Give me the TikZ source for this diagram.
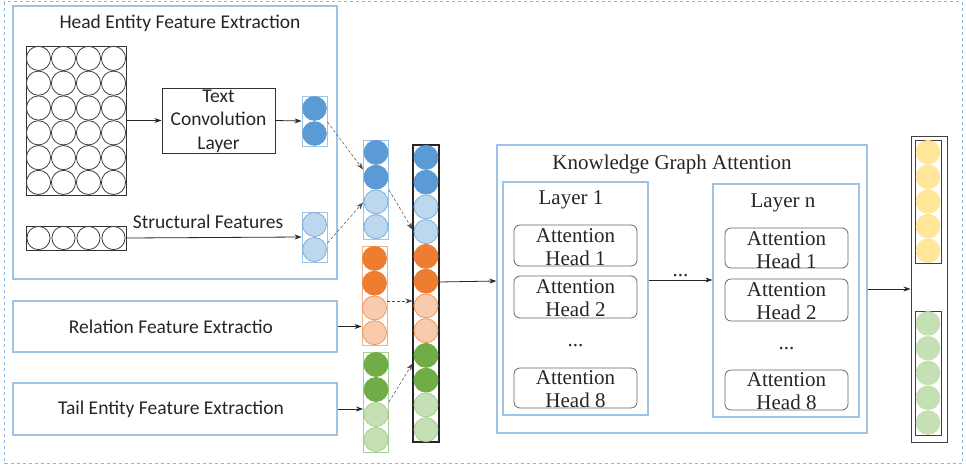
\documentclass[tikz,border=0pt]{standalone}
\usepackage{fontspec}
\setmainfont{Liberation Serif}
\newfontfamily\calib{Carlito}
\usetikzlibrary{arrows.meta,calc}
\definecolor{dblue}{HTML}{5B9BD5}
\definecolor{lblue}{HTML}{BDD7EE}
\definecolor{dorange}{HTML}{ED7D31}
\definecolor{lorange}{HTML}{F8CBAD}
\definecolor{dgreen}{HTML}{70AD47}
\definecolor{lgreen}{HTML}{C5E0B4}
\definecolor{ygold}{HTML}{FFE699}
\definecolor{boxblue}{HTML}{9DC3E6}
\definecolor{txt}{HTML}{262626}
\begin{document}
\begin{tikzpicture}[x=1pt,y=-1pt,
  bbox/.style={draw=boxblue, line width=1.2pt},
  col/.style={draw, inner sep=0pt, minimum width=25pt, line width=0.9pt},
  arr/.style={-{Stealth[length=7pt,width=5pt]}, line width=0.8pt, draw=black!85},
  dotarr/.style={-{Stealth[length=7pt,width=5pt]}, densely dashed, line width=0.5pt, draw=black!70},
  sans/.style={font=\calib\fontsize{19.5}{23.5}\selectfont, text=txt, inner sep=0pt},
  serif/.style={font=\fontsize{21}{23}\selectfont, text=txt, inner sep=0pt},
  head/.style={draw=black!60, rounded corners=6pt, line width=0.8pt, minimum width=123pt, inner sep=0pt}
]
\useasboundingbox (0,0) rectangle (966,466);
% outer dashed frame
\draw[dblue!70, dashed, line width=0.7pt] (4,1.5) rectangle (962,463);

% ---------- Head entity box ----------
\node[bbox, minimum width=324pt, minimum height=273pt, inner sep=0pt] (hbox) at (175,142.5) {};
\node[sans] (htitle) at (180,23) {Head Entity Feature Extraction};

% grid
\node[draw=black!80, line width=1pt, minimum width=100pt, minimum height=149pt, inner sep=0pt] (grid) at (76,120.5) {};
\foreach \i in {0,...,3}
  \foreach \j in {0,...,5}
    \draw[black!75, line width=0.8pt, fill=white] (38.5+25*\i, 58.4+24.8*\j) circle (12.1pt);

% text convolution layer
\node[draw=black!80, line width=1pt, minimum width=113pt, minimum height=65pt, inner sep=0pt] (conv) at (218.5,120.5) {};
\node[sans, align=center] (convt) at (218.5,121) {Text\\Convolution\\Layer};

% structural row
\node[draw=black!80, line width=1pt, minimum width=100pt, minimum height=24pt, inner sep=0pt] (srow) at (76,238) {};
\foreach \i in {0,...,3}
  \draw[black!75, line width=0.8pt, fill=white] (38.5+25*\i, 238) circle (11.6pt);
\node[sans] (slab) at (208,222) {Structural Features};

% head pairs
\node[col, draw=boxblue, minimum height=50pt] (hd) at (314.5,121) {};
\foreach \k in {0,1}
  \fill[dblue] (314.5,108.5+25*\k) circle (12.3pt);
\node[col, draw=boxblue, minimum height=50pt] (hl) at (314.5,237) {};
\foreach \k in {0,1}
  \draw[dblue!80, line width=0.8pt, fill=lblue] (314.5,224.5+25*\k) circle (12pt);

\draw[arr] (grid.east) -- (conv.west);
\draw[arr] (conv.east) -- (hd.west);
\draw[arr] (srow.east) -- (hl.west);

% ---------- Relation / Tail boxes ----------
\node[bbox, minimum width=324pt, minimum height=51pt, inner sep=0pt] (rel) at (175,326.5) {};
\node[sans] (relt) at (171,327) {Relation Feature Extractio};
\node[bbox, minimum width=324pt, minimum height=52pt, inner sep=0pt] (tail) at (175,409) {};
\node[sans] (tailt) at (171,409) {Tail Entity Feature Extraction};

% ---------- middle columns ----------
\node[col, draw=boxblue, minimum height=99pt] (mb) at (376,189.5) {};
\foreach \f/\d [count=\i from 0] in {dblue/dblue, dblue/dblue, lblue/dblue!80, lblue/dblue!80}
  \draw[draw=\d, fill=\f, line width=0.8pt] (376,152.4+24.75*\i) circle (12pt);

\node[col, draw=dorange!60, minimum height=99pt] (mo) at (374.5,295.5) {};
\foreach \f/\d [count=\i from 0] in {dorange/dorange, dorange/dorange, lorange/dorange!80, lorange/dorange!80}
  \draw[draw=\d, fill=\f, line width=0.8pt] (374.5,258.4+24.75*\i) circle (12pt);

\node[col, draw=dgreen!60, minimum height=100pt] (mg) at (376,402) {};
\foreach \f/\d [count=\i from 0] in {dgreen/dgreen, dgreen/dgreen, lgreen/dgreen!60, lgreen/dgreen!60}
  \draw[draw=\d, fill=\f, line width=0.8pt] (376,364.5+25*\i) circle (12pt);

\draw[arr] (rel.east) -- (rel.east -| mo.west);
\draw[arr] (tail.east) -- (tail.east -| mg.west);

% ---------- concatenated column ----------
\node[col, draw=black!85, line width=1.1pt, minimum width=26pt, minimum height=297pt] (big) at (426,293.5) {};
\foreach \f/\d [count=\i from 0] in {dblue/dblue, dblue/dblue, lblue/dblue!80, lblue/dblue!80,
    dorange/dorange, dorange/dorange, lorange/dorange!80, lorange/dorange!80,
    dgreen/dgreen, dgreen/dgreen, lgreen/dgreen!60, lgreen/dgreen!60}
  \draw[draw=\d, fill=\f, line width=0.8pt] (426,157.4+24.75*\i) circle (12pt);

% dotted connectors
\draw[dotarr] ([yshift=-1pt]hd.east) -- ([yshift=20pt]mb.west);
\draw[dotarr] ([yshift=-6pt]hl.east) -- ([yshift=-13pt]mb.west);
\draw[dotarr] ([yshift=-0.5pt]mb.east) -- ([yshift=64pt]big.west);
\draw[dotarr] ([yshift=-5.5pt]mo.east) -- ([yshift=-7.5pt]big.west);
\draw[dotarr] (mg.east) -- ([yshift=-70pt]big.west);

% ---------- Knowledge graph attention ----------
\node[bbox, minimum width=370pt, minimum height=288pt, inner sep=0pt] (kga) at (682,289) {};
\node[serif] (kgat) at (672,164) {Knowledge Graph Attention};

\node[bbox, minimum width=145pt, minimum height=233pt, inner sep=0pt] (l1) at (575.5,298.5) {};
\node[serif] (l1t) at (571,200) {Layer 1};
\node[bbox, minimum width=146pt, minimum height=233pt, inner sep=0pt] (ln) at (786,300.5) {};
\node[serif] (lnt) at (783,203) {Layer n};

% heads layer 1
\node[head, minimum height=41pt] (a1) at (575.5,245.5) {};
\node[serif, align=center] at (575.5,247) {Attention\\Head 1};
\node[head, minimum height=42pt] (a2) at (575.5,297) {};
\node[serif, align=center] at (575.5,298.5) {Attention\\Head 2};
\node[serif] (d1) at (575.5,346) {...};
\node[head, minimum height=40pt] (a8) at (575.5,388) {};
\node[serif, align=center] at (575.5,389.5) {Attention\\Head 8};

% heads layer n
\node[head, minimum height=40pt] (b1) at (786.5,248) {};
\node[serif, align=center] at (786.5,250) {Attention\\Head 1};
\node[head, minimum height=42pt] (b2) at (786.5,300) {};
\node[serif, align=center] at (786.5,301.5) {Attention\\Head 2};
\node[serif] (d2) at (786.5,349) {...};
\node[head, minimum height=40pt] (b8) at (786.5,390) {};
\node[serif, align=center] at (786.5,391.5) {Attention\\Head 8};

\draw[arr] ([yshift=11.5pt]big.east) -- ([yshift=8pt]kga.west);
\draw[arr] ([yshift=18.5pt]l1.east) -- ([yshift=20.5pt]ln.west) node[midway, serif, above=3pt] {...};

% ---------- output ----------
\node[draw=black!75, line width=1pt, minimum width=36pt, minimum height=306pt, inner sep=0pt] (out) at (929,289) {};
\node[draw=black!75, line width=1pt, minimum width=26pt, minimum height=123pt, inner sep=0pt] (oy) at (928,201.5) {};
\foreach \k in {0,...,4}
  \fill[ygold] (928,152.3+24.6*\k) circle (12.3pt);
\node[draw=black!75, line width=1pt, minimum width=26pt, minimum height=124pt, inner sep=0pt] (og) at (928,373) {};
\foreach \k in {0,...,4}
  \fill[lgreen] (928,323.4+24.8*\k) circle (12.3pt);
\draw[arr] (kga.east) -- (out.west);
\end{tikzpicture}
\end{document}
